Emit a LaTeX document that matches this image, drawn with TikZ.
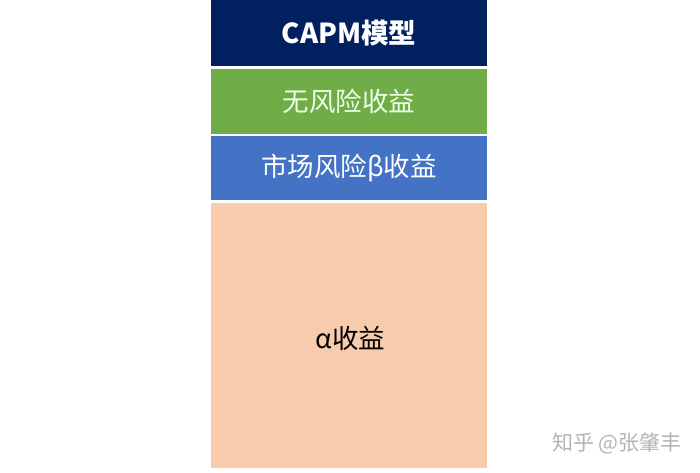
\documentclass[tikz,border=0pt]{standalone}
\usepackage{fontspec}
\newfontfamily\cjk{Noto Sans CJK SC}
\definecolor{navy}{HTML}{002060}
\definecolor{grn}{HTML}{70AD47}
\definecolor{blu}{HTML}{4472C4}
\definecolor{peach}{HTML}{F8CBAD}
\definecolor{wm}{HTML}{B4B4B4}
\tikzset{
  layer/.style={rectangle, inner sep=0pt, outer sep=0pt, minimum width=276pt, anchor=north west, font=\cjk\fontsize{26.5}{31}\selectfont},
}
\begin{document}
\begin{tikzpicture}[x=1pt,y=-1pt]
\useasboundingbox (0,0) rectangle (700,472);
\fill[white] (0,0) rectangle (700,472);
\node[layer, fill=navy, minimum height=66pt, text=white, font=\cjk\bfseries\fontsize{27.5}{32}\selectfont] (capm) at (211,0) {CAPM模型};
\node[layer, fill=grn, minimum height=65pt, text=white!92!green] (rf) at (211,68.5) {无风险收益};
\node[layer, fill=blu, minimum height=64pt, text=white] (beta) at (211,136) {市场风险β收益};
\node[layer, fill=peach, minimum height=265pt, text=black] (alpha) at (211,203) {};
\node[font=\cjk\fontsize{26.5}{31}\selectfont, text=black, inner sep=0pt] (alphatxt) at (350.5,338) {α收益};
\node[font=\cjk\fontsize{21}{24}\selectfont, text=wm, anchor=west, inner sep=0pt] (mark) at (552,443) {知乎 @张肇丰};
\end{tikzpicture}
\end{document}
